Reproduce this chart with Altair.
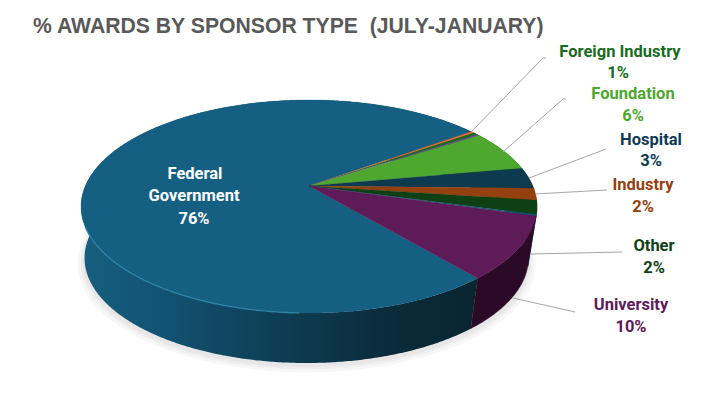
import math
import altair as alt
import pandas as pd

# Slices, clockwise from the Federal Government slice
slice_names = ["Federal Government", "Unlabelled A", "Foreign Industry", "Unlabelled B", "Foundation",
               "Hospital", "Industry", "Other", "Unlabelled C", "University"]
slice_values = [76.07, 0.3, 0.4, 0.2, 6.3, 3.2, 1.8, 2.1, 0.2, 9.43]
slice_colors = ["#156082", "#e97132", "#196b24", "#7a4fb0", "#4ea72e",
                "#0d3a4e", "#94410f", "#0f4015", "#095f80", "#5f1a58"]
wall_colors = ["#0c3a4e", "#7a3a12", "#0f4015", "#333366", "#2f641c",
               "#082433", "#5a270a", "#092810", "#062f40", "#2b0a27"]

title_text = "% AWARDS BY SPONSOR TYPE\u00a0 (JULY-JANUARY)"

label_lines = ["Federal", "Government", "76%", "Foreign Industry", "1%", "Foundation", "6%",
               "Hospital", "3%", "Industry", "2%", "Other", "2%", "University", "10%"]
label_colors = ["#ffffff"] * 3 + ["#196b24"] * 2 + ["#4ea72e"] * 2 + ["#0e3a53"] * 2 + \
               ["#94410f"] * 2 + ["#0f4015"] * 2 + ["#5f1a58"] * 2
label_x = [195, 194, 194, 620, 618, 633, 633, 651, 651, 643, 643, 654, 654, 631, 631]
label_y = [179, 201, 224, 57, 78, 99, 121, 145, 166, 190, 212, 251, 273, 310, 332]

leader_ids = [0, 0, 0, 1, 1, 1, 2, 2, 3, 3, 4, 4, 5, 5]
leader_x = [472, 543, 546, 503, 563, 566, 529, 606, 535, 607, 530, 622, 513, 575]
leader_y = [131, 58, 58, 152, 99, 99, 178, 149, 194, 190, 254, 252, 298, 312]

# Perspective disc projection
K = 0.1925
START_DEG = 50.0


def project(theta, face):
    cx, apex, rad_x, rad_y = face
    u, v = math.cos(theta), math.sin(theta)
    w = 1 - K * v
    return cx + rad_x * u / w, apex + rad_y * v / w


TOP = (309.0, 186.0, 223.7, 102.6)
BOTTOM = (306.5, 237.8, 217.8, 101.1)

xs = alt.X("x:Q", axis=None, scale=alt.Scale(domain=[8, 712], range=[0, 704], nice=False, zero=False))
ys = alt.Y("y:Q", axis=None, scale=alt.Scale(domain=[8, 397], range=[0, 389], nice=False, zero=False))


def poly(points, **mark):
    df = pd.DataFrame({"x": [p[0] for p in points], "y": [p[1] for p in points], "i": range(len(points))})
    return alt.Chart(df).mark_line(**mark).encode(x=xs, y=ys, order=alt.Order("i:Q"))


def arc(a, b, face):
    n = max(2, int(abs(b - a) * 2) + 1)
    return [project(math.radians(a + (b - a) * j / (n - 1)), face) for j in range(n)]


# slice boundaries in degrees; the Federal slice starts at START_DEG and runs clockwise
edges = [START_DEG]
for value in slice_values:
    edges.append(edges[-1] + value * 3.6)

layers = []

# soft ground shadow
for grow, shift in [(7, 5), (4, 4), (2, 3)]:
    face = (BOTTOM[0], BOTTOM[1] + shift, BOTTOM[2] + grow, BOTTOM[3] + grow * 0.5)
    pts = arc(0, 360, face)
    layers.append(poly(pts, fill="#000000", fillOpacity=0.03, strokeWidth=0))

# side walls
fed_gradient = alt.Gradient(
    gradient="linear", x1=0, x2=1, y1=0, y2=0,
    stops=[alt.GradientStop(offset=0, color="#165e7f"),
           alt.GradientStop(offset=0.2, color="#125373"),
           alt.GradientStop(offset=0.5, color="#0e3d54"),
           alt.GradientStop(offset=0.8, color="#0a2a38"),
           alt.GradientStop(offset=1, color="#092531")])
for idx in range(len(slice_values)):
    a, b = edges[idx], edges[idx + 1]
    pts = arc(a, b, TOP) + arc(b, a, BOTTOM)
    pts.append(pts[0])
    if idx == 0:
        layers.append(poly(pts, fill=fed_gradient, strokeWidth=0))
    else:
        layers.append(poly(pts, fill=wall_colors[idx], stroke=wall_colors[idx], strokeWidth=0.4))

# top faces
apex = (TOP[0], TOP[1])
for idx in range(len(slice_values)):
    a, b = edges[idx], edges[idx + 1]
    pts = [apex] + arc(a, b, TOP) + [apex]
    layers.append(poly(pts, fill=slice_colors[idx], stroke=slice_colors[idx], strokeWidth=0.3))

# highlight along the front rim
layers.append(poly(arc(92, 158, TOP), stroke="#2f86ad", strokeWidth=1.4, opacity=0.8))

# leader lines
leader_df = pd.DataFrame({"x": leader_x, "y": leader_y, "g": leader_ids, "i": range(len(leader_x))})
layers.append(alt.Chart(leader_df).mark_line(stroke="#a6a6a6", strokeWidth=1).encode(
    x=xs, y=ys, detail="g:N", order=alt.Order("i:Q")))

# labels
label_df = pd.DataFrame({"x": label_x, "y": label_y, "t": label_lines, "c": label_colors})
layers.append(alt.Chart(label_df).mark_text(
    font="Roboto", fontWeight="bold", fontSize=16.5, align="center", baseline="alphabetic"
).encode(x=xs, y=ys, text="t:N", color=alt.Color("c:N", scale=None)))

# title
title_df = pd.DataFrame({"x": [33], "y": [33], "t": [title_text]})
layers.append(alt.Chart(title_df).mark_text(
    font="Liberation Sans", fontWeight="bold", fontSize=21.2, align="left", baseline="alphabetic", color="#595959"
).encode(x=xs, y=ys, text="t:N"))

chart = alt.layer(*layers).properties(
    width=704, height=389, padding=0, autosize=alt.AutoSizeParams(type="none"), background="#ffffff"
).configure_view(stroke=None)

chart.save("out.html", embed_options={"renderer": "svg", "actions": False})
